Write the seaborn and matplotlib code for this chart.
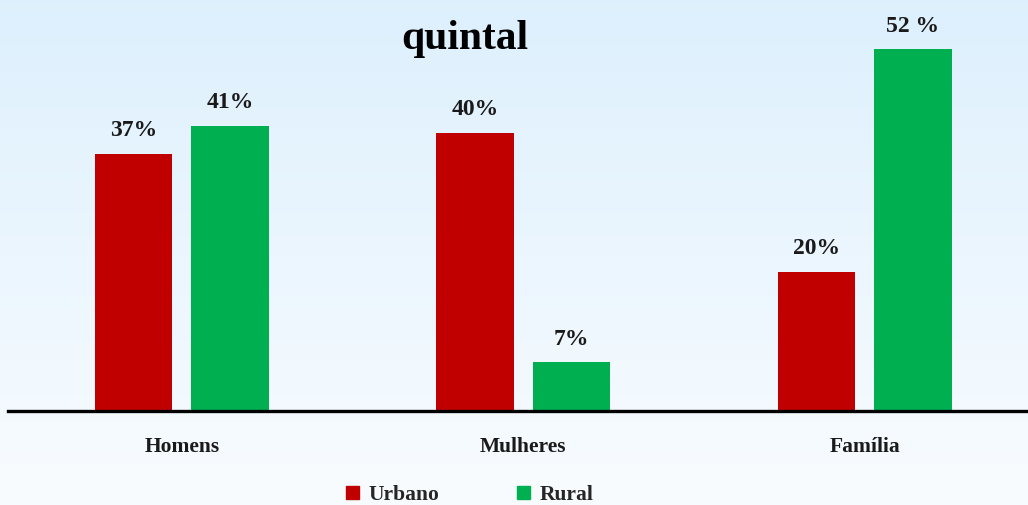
import numpy as np
import pandas as pd
import matplotlib
matplotlib.use("Agg")
import matplotlib.pyplot as plt
import seaborn as sns
from matplotlib.patches import Patch

# data
categories = ["Homens", "Mulheres", "Família"]
urbano = [37, 40, 20]
rural = [41, 7, 52]
urbano_labels = ["37%", "40%", "20%"]
rural_labels = ["41%", "7%", "52 %"]

df = pd.DataFrame({
    "grupo": categories * 2,
    "zona": ["Urbano"] * 3 + ["Rural"] * 3,
    "valor": urbano + rural,
})

sns.set_theme(style="white")
plt.rcParams["font.family"] = ["Liberation Serif", "DejaVu Serif"]

fig = plt.figure(figsize=(10.28, 5.05), dpi=100)

# background gradient (light blue -> near white)
bg = fig.add_axes([0, 0, 1, 1], zorder=0)
grad = np.linspace(0, 1, 256).reshape(-1, 1)
top = np.array([0.867, 0.941, 0.992])
bottom = np.array([0.976, 0.988, 1.0])
img = top + (bottom - top) * grad[:, :, None]
bg.imshow(img, aspect="auto", extent=[0, 1, 0, 1])
bg.set_axis_off()

W, H = 1028, 505
ax = fig.add_axes([8 / W, (H - 411) / H, 1 - 8 / W, 411 / H], zorder=1)
ax.patch.set_alpha(0)

sns.barplot(data=df, x="grupo", y="valor", hue="zona", order=categories,
            hue_order=["Urbano", "Rural"],
            palette={"Urbano": "#C00000", "Rural": "#00B050"},
            width=0.565, gap=0.2, ax=ax, legend=False, saturation=1,
            linewidth=0)

for cont, labs in zip(ax.containers, [urbano_labels, rural_labels]):
    ax.bar_label(cont, labels=labs, padding=9, fontsize=17,
                 fontweight="bold", color="#1a1a1a")

ax.set_xlim(-0.509, 2.478)
ax.set_ylim(0, 59.1)
ax.set_xlabel("")
ax.set_ylabel("")
ax.set_yticks([])
for s in ["left", "right", "top"]:
    ax.spines[s].set_visible(False)
ax.spines["bottom"].set_linewidth(2.4)
ax.spines["bottom"].set_color("black")
ax.tick_params(axis="x", length=0, pad=19, labelsize=15.5)
for t in ax.get_xticklabels():
    t.set_fontweight("bold")
    t.set_color("#1a1a1a")

fig.text(465 / W, 1 - 39 / H, "quintal", ha="center", va="center",
         fontsize=30, fontweight="bold", color="black")

handles = [Patch(color="#C00000", label="Urbano"),
           Patch(color="#00B050", label="Rural")]
fig.legend(handles=handles, loc="center", bbox_to_anchor=(470 / W, 1 - 495 / H),
           ncol=2, frameon=False, handlelength=0.6,
           handleheight=0.6, handletextpad=0.45, columnspacing=3.6,
           prop={"weight": "bold", "size": 15.5})

fig.savefig("out.png", dpi=100)
